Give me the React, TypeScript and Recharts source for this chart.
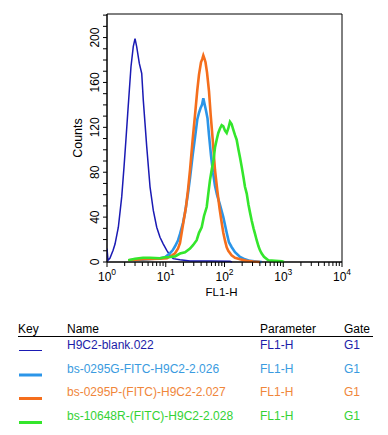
import { LineChart, Line, XAxis, YAxis, ReferenceArea } from 'recharts'

// [FL1-H, count]
const blankPoints = [
  [1.0, 12], [1.04, 1.5], [1.12, 3.3], [1.27, 10.4], [1.37, 16], [1.56, 31], [1.78, 58], [1.95, 85],
  [2.1, 109], [2.25, 132], [2.4, 153], [2.56, 174], [2.8, 192], [3.0, 199], [3.2, 192], [3.55, 177],
  [3.9, 168], [4.15, 144], [4.43, 124], [4.74, 103], [5.4, 67], [6.14, 46], [7.02, 31], [7.98, 22],
  [9.09, 16], [10.4, 10.4], [11.8, 6], [13.4, 3], [17.5, 2], [25.9, 1], [56.6, 1], [124, 0.6], [134, 0],
]

const greenFitcPoints = [
  [2.3, 1.5], [4.1, 2], [8.0, 3.3], [9.7, 4.2], [11.8, 7.8], [13.1, 10.4], [14.4, 14], [16.2, 19.4],
  [17.5, 25], [19.7, 35], [21.3, 44], [23.9, 61], [25.9, 75], [28.7, 95], [31.5, 111], [34.4, 127],
  [36.8, 133], [39.0, 137], [41.4, 140], [43.6, 146], [45.7, 141], [48.4, 135], [51.4, 128], [54.5, 113],
  [58.9, 95], [63.7, 80], [68.9, 68], [74.5, 60], [83.8, 51], [95.4, 40], [109, 26], [119, 17.6],
  [132, 13.4], [151, 8.7], [184, 4.5], [223, 2.4], [272, 1], [353, 0.4], [430, 0],
]

const pFitcPoints = [
  [2.3, 1.5], [4.1, 2.4], [8.0, 3], [10.5, 3.3], [12.8, 6], [14.4, 7.8], [16.2, 12], [17.5, 17],
  [19.9, 35], [22.1, 49], [23.9, 64], [25.9, 82], [28.7, 109], [31.5, 131], [34.4, 153], [36.8, 167],
  [39.8, 178], [41.9, 181], [43.6, 184], [45.7, 181], [47.5, 178], [50.4, 169], [54.5, 152], [58.2, 131],
  [63.0, 109], [68.9, 82], [75.3, 64], [82.2, 48], [89.6, 35], [95.4, 26], [102, 19], [109, 13],
  [116, 10], [132, 6], [151, 3.8], [184, 2.4], [239, 1], [305, 0.4], [402, 0],
]

const rFitcPoints = [
  [2.3, 1.5], [3.0, 2.9], [4.1, 3.8], [5.4, 3.8], [8.0, 3.3], [9.7, 4.2], [11.8, 4.5], [14.4, 5],
  [17.5, 7.5], [21.3, 8.7], [25.9, 12], [29.1, 15], [33.6, 19.4], [36.8, 26], [40.9, 31], [44.8, 41],
  [49.8, 49], [53.0, 61], [56.6, 73], [60.5, 82], [65.0, 91], [68.9, 102], [73.6, 109], [78.4, 115],
  [83.8, 119], [89.6, 122], [95.4, 121], [102, 117], [109, 115], [116, 119], [124, 125], [132, 123],
  [141, 118], [151, 113], [161, 109], [173, 100], [184, 93], [196, 85], [211, 75], [223, 67],
  [239, 61], [256, 51], [272, 44], [290, 37], [312, 30], [331, 25], [353, 19.4], [379, 14],
  [402, 10.4], [430, 7.5], [470, 4.6], [557, 1.5], [724, 1], [952, 0.6], [1030, 0],
]

const series = [
  { name: 'H9C2-blank.022', color: '#1a1ab4', text: '#1c1ca8', width: 1.5, points: blankPoints },
  { name: 'bs-0295G-FITC-H9C2-2.026', color: '#2b95e8', text: '#3a9be0', width: 2.6, points: greenFitcPoints },
  { name: 'bs-0295P-(FITC)-H9C2-2.027', color: '#f56e1c', text: '#f0863a', width: 2.6, points: pFitcPoints },
  { name: 'bs-10648R-(FITC)-H9C2-2.028', color: '#34e62c', text: '#34d234', width: 2.6, points: rFitcPoints },
]

const parameter = 'FL1-H'
const gate = 'G1'

const xTicks = [
  1, 2, 3, 4, 5, 6, 7, 8, 9,
  10, 20, 30, 40, 50, 60, 70, 80, 90,
  100, 200, 300, 400, 500, 600, 700, 800, 900,
  1000, 2000, 3000, 4000, 5000, 6000, 7000, 8000, 9000,
  10000,
]
const yTicks = [0, 10, 20, 30, 40, 50, 60, 70, 80, 90, 100, 110, 120, 130, 140, 150, 160, 170, 180, 190, 200, 210, 220]
const yLabelled = [0, 40, 80, 120, 160, 200]

const font = '"Liberation Sans", Arial, sans-serif'

function XTick({ x, y, payload }: any) {
  const v = payload.value
  const exp = Math.round(Math.log10(v))
  const major = Math.abs(v - Math.pow(10, exp)) < 1e-6
  return (
    <g>
      <line x1={x} x2={x} y1={y} y2={y + (major ? 5 : 4)} stroke="#000" />
      {major && (
        <text x={x} y={y + 19} textAnchor="middle" fontSize={12} fill="#000" fontFamily={font}>
          <tspan>10</tspan>
          <tspan dy={-6} fontSize={8.5}>{exp}</tspan>
        </text>
      )}
    </g>
  )
}

function YTick({ x, y, payload }: any) {
  const major = yLabelled.includes(payload.value)
  return (
    <g>
      <line x1={x - 4} x2={x} y1={y} y2={y} stroke="#000" />
      {major && (
        <text
          x={x - 12}
          y={y}
          transform={`rotate(-90 ${x - 12} ${y})`}
          textAnchor="middle"
          dominantBaseline="central"
          fontSize={12}
          fill="#000"
          fontFamily={font}
        >
          {payload.value}
        </text>
      )}
    </g>
  )
}

function Legend() {
  const rowY = [348.5, 372.5, 396, 420]
  return (
    <svg width={388} height={435} style={{ position: 'absolute', left: 0, top: 0 }} fontFamily={font} fontSize={12}>
      <text x={18} y={332.5}>Key</text>
      <text x={67} y={332.5}>Name</text>
      <text x={260} y={332.5}>Parameter</text>
      <text x={344} y={332.5}>Gate</text>
      <line x1={18} x2={373} y1={336.5} y2={336.5} stroke="#000" />
      {series.map((s, i) => (
        <g key={s.name}>
          <line
            x1={19}
            x2={42}
            y1={i === 0 ? rowY[i] + 2 : rowY[i] + 2.5}
            y2={i === 0 ? rowY[i] + 2 : rowY[i] + 2.5}
            stroke={s.color}
            strokeWidth={i === 0 ? 1 : 3}
          />
          <text x={67} y={rowY[i]} fill={s.text}>{s.name}</text>
          <text x={260} y={rowY[i]} fill={s.text}>{parameter}</text>
          <text x={344} y={rowY[i]} fill={s.text}>{gate}</text>
        </g>
      ))}
    </svg>
  )
}

export default function App() {
  return (
    <div style={{ position: 'absolute', left: 0, top: 0, width: 388, height: 435, background: '#fff' }}>
      <Legend />
      <div style={{ position: 'absolute', left: 0, top: 0 }}>
        <LineChart width={388} height={300} margin={{ top: 14, right: 46, bottom: 8, left: 67 }}>
          <XAxis
            type="number"
            dataKey="x"
            scale="log"
            domain={[1, 10000]}
            ticks={xTicks}
            interval={0}
            tickSize={0}
            tickMargin={0}
            tickLine={false}
            tick={<XTick />}
            height={30}
            stroke="#000"
            allowDataOverflow
            label={(props: any) => {
              const vb = props.viewBox
              return (
                <text x={vb.x + vb.width / 2 - 3} y={vb.y + 33.5} textAnchor="middle" fontSize={11.5} fontFamily={font} fill="#000">
                  FL1-H
                </text>
              )
            }}
          />
          <YAxis
            type="number"
            dataKey="y"
            domain={[0, 221]}
            ticks={yTicks}
            interval={0}
            tickSize={0}
            tickMargin={0}
            tickLine={false}
            tick={<YTick />}
            width={40}
            stroke="#000"
            label={(props: any) => {
              const vb = props.viewBox
              const cx = vb.x + vb.width - 29
              const cy = vb.y + vb.height / 2
              return (
                <text x={cx} y={cy} transform={`rotate(-90 ${cx} ${cy})`} textAnchor="middle" dominantBaseline="central" fontSize={12.5} fontFamily={font} fill="#000">
                  Counts
                </text>
              )
            }}
          />
          <ReferenceArea x1={1} x2={10000} y1={0} y2={221} fill="none" stroke="#000" strokeOpacity={1} fillOpacity={0} />
          {series.map((s) => (
            <Line
              key={s.name}
              data={s.points.map(([x, y]) => ({ x, y }))}
              dataKey="y"
              type="linear"
              stroke={s.color}
              strokeWidth={s.width}
              dot={false}
              activeDot={false}
              isAnimationActive={false}
            />
          ))}
        </LineChart>
      </div>
    </div>
  )
}
